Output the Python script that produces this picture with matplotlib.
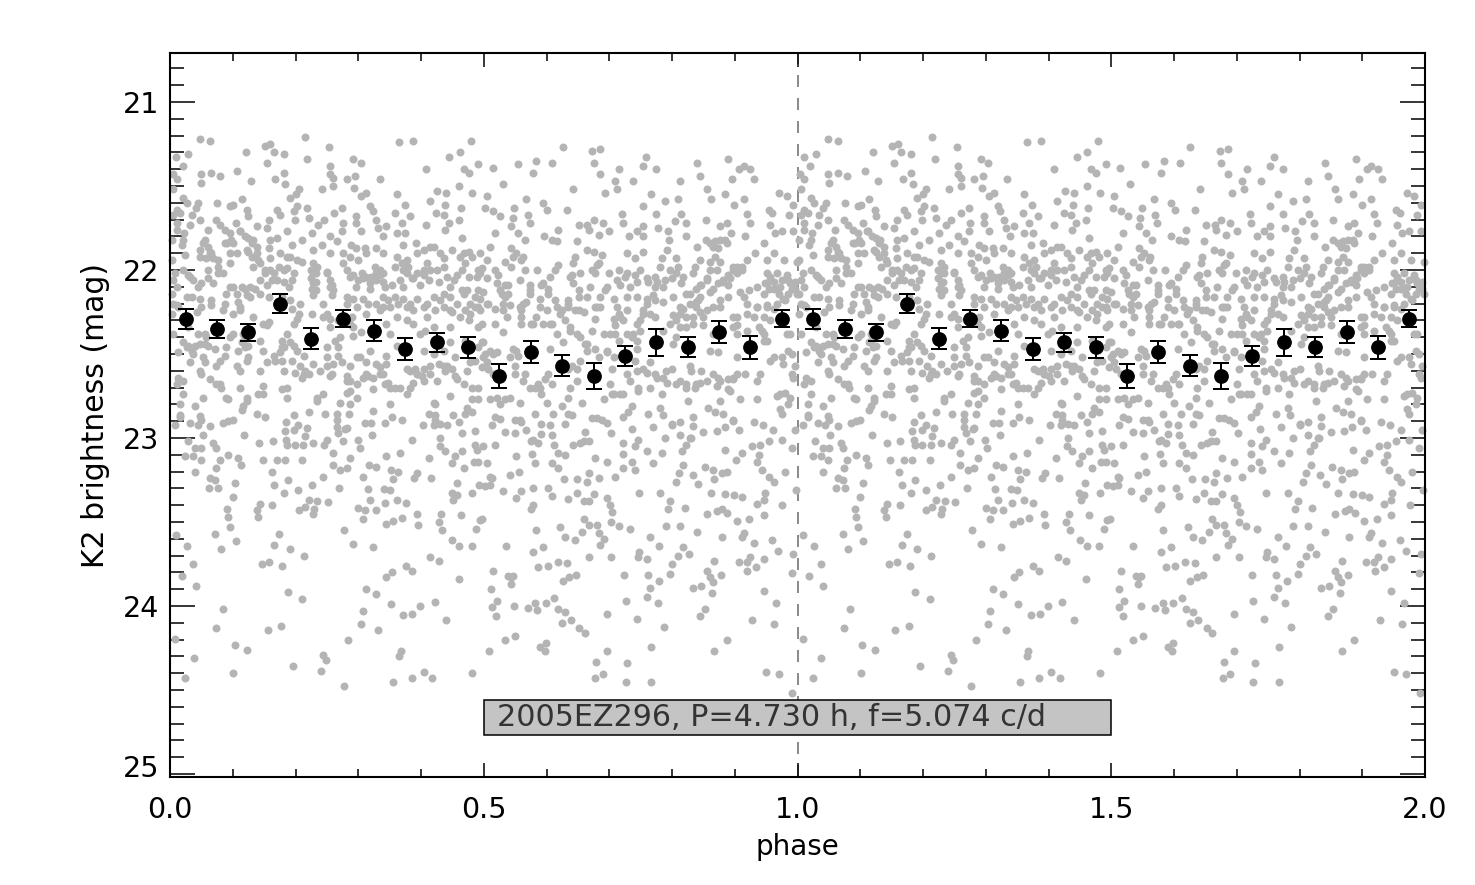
import matplotlib
matplotlib.use("Agg")
import matplotlib.pyplot as plt
from matplotlib.patches import Rectangle
from matplotlib.ticker import MultipleLocator
from matplotlib.transforms import ScaledTranslation
import numpy as np

# binned light curve, one rotation (phase, mag, err)
bin_phase = [0.025, 0.075, 0.125, 0.175, 0.225, 0.275, 0.325, 0.375, 0.425, 0.475,
             0.525, 0.575, 0.625, 0.675, 0.725, 0.775, 0.825, 0.875, 0.925, 0.975]
bin_mag = [22.29, 22.35, 22.37, 22.20, 22.41, 22.29, 22.36, 22.47, 22.43, 22.46,
           22.63, 22.49, 22.57, 22.63, 22.51, 22.43, 22.46, 22.37, 22.46, 22.29]
bin_err = [0.060, 0.052, 0.050, 0.058, 0.063, 0.052, 0.060, 0.068, 0.057, 0.062,
           0.070, 0.066, 0.063, 0.076, 0.060, 0.079, 0.060, 0.064, 0.069, 0.052]

# single exposures, (phase, mag), first half of the rotation
early_points = [
(.048,21.22),(.064,21.23),(.215,21.21),(.254,21.27),(.151,21.26),(.16,21.25),(.165,21.30),(.181,21.31),
(.121,21.30),(.029,21.31),(.01,21.33),(.219,21.34),(.154,21.36),(.02,21.38),(.255,21.38),(.292,21.34),
(.304,21.36),(.365,21.24),(.388,21.23),(.479,21.23),(.462,21.30),(.445,21.33),(.408,21.40),(.491,21.37),
(.468,21.40),(.476,21.42),(.107,21.41),(.065,21.42),(.049,21.43),(.079,21.44),(.004,21.43),(.011,21.46),
(.181,21.42),(.168,21.46),(.129,21.47),(.05,21.48),(.184,21.49),(.255,21.43),(.26,21.45),(.282,21.46),
(.295,21.44),(.334,21.46),(.26,21.50),(.242,21.52),(.294,21.51),(.205,21.52),(.2,21.55),(.191,21.57),
(.313,21.54),(.305,21.56),(.361,21.55),(.426,21.53),(.44,21.54),(.461,21.50),(.482,21.54),(.414,21.59),
(.439,21.61),(.374,21.61),(.021,21.57),(.027,21.60),(.045,21.60),(.114,21.58),(.101,21.61),(.075,21.60),
(.096,21.62),(.123,21.64),(.041,21.63),(.17,21.64),(.202,21.62),(.218,21.63),(.197,21.65),(.274,21.63),
(.261,21.66),(.319,21.62),(.323,21.65),(.463,21.63),(.359,21.66),(.383,21.68),(.424,21.66),(.436,21.67),
(.005,21.67),(.016,21.66),(.035,21.67),(.048,21.70),(.125,21.68),(.175,21.67),(.221,21.69),(.199,21.70),
(.158,21.70),(.245,21.70),(.275,21.72),(.297,21.68),(.329,21.70),(.46,21.70),(.444,21.72),(.369,21.72),
(.408,21.73),(.297,21.72),(.011,21.72),(.032,21.73),(.074,21.70),(.08,21.73),(.105,21.72),(.138,21.74),
(.154,21.75),(.236,21.73),(.226,21.78),(.345,21.74),(.332,21.75),(.438,21.76),(.361,21.78),(.375,21.78),
(.088,21.76),(.096,21.78),(.111,21.77),(.06,21.76),(.023,21.78),(.186,21.77),(.17,21.81),(.21,21.82),
(.255,21.80),(.274,21.77),(.305,21.77),(.339,21.80),(.465,21.81),(.056,21.82),(.119,21.80),(.132,21.82),
(.091,21.84),(.101,21.84),(.019,21.85),(.228,21.88),(.242,21.85),(.266,21.83),(.289,21.85),(.297,21.87),
(.311,21.87),(.328,21.87),(.157,21.87),(.194,21.85),(.392,21.84),(.372,21.85),(.42,21.86),(.404,21.88),
(.449,21.88),(.476,21.89),(.048,21.88),(.064,21.89),(.125,21.89),(.138,21.90),(.096,21.90),
(.003,21.94),(.024,21.91),(.021,22.0),(.048,21.92),(.058,21.93),(.066,21.9),(.077,21.94),(.096,21.96),
(.13,21.92),(.143,21.96),(.159,21.93),(.191,21.92),(.21,21.95),(.228,21.96),(.228,22.02),(.228,22.08),
(.276,21.96),(.287,21.92),(.3,21.94),(.327,21.98),(.335,22.0),(.361,21.92),(.377,21.94),(.409,21.96),
(.436,21.93),(.462,21.92),(.481,21.92),(.005,22.06),(.032,22.04),(.061,22.0),(.077,22.02),(.045,22.1),
(.069,22.08),(.096,22.1),(.151,22.0),(.165,22.02),(.181,22.0),(.194,22.06),(.17,22.06),(.12,22.11),
(.135,22.11),(.154,22.09),(.25,22.02),(.255,22.1),(.287,22.04),(.308,22.05),(.321,22.04),(.335,22.03),
(.297,22.1),(.319,22.11),(.343,22.1),(.372,22.0),(.388,22.05),(.404,22.0),(.425,22.0),(.441,22.04),
(.457,22.03),(.476,22.04),(.491,22.0),(.473,22.12),(.353,22.09),(.003,22.14),(.027,22.16),(.048,22.17),
(.066,22.21),(.088,22.2),(.109,22.19),(.122,22.15),(.143,22.14),(.191,22.18),(.228,22.15),(.244,22.2),
(.258,22.15),(.282,22.16),(.308,22.17),(.329,22.2),(.351,22.22),(.372,22.17),(.393,22.17),(.42,22.16),
(.446,22.16),(.468,22.14),(.491,22.12),(.011,22.21),(.043,22.25),(.085,22.24),(.112,22.24),(.133,22.28),
(.149,22.32),(.202,22.29),(.226,22.26),(.25,22.26),(.298,22.22),(.34,22.22),(.388,22.24),(.409,22.2),
(.436,22.22),(.446,22.24),(.478,22.26),(.491,22.22),(.409,22.28),(.361,22.28),(.005,22.38),(.045,22.38),
(.058,22.4),(.101,22.38),(.117,22.38),(.154,22.33),(.178,22.42),(.197,22.32),(.186,22.38),(.255,22.34),
(.271,22.4),(.292,22.39),(.351,22.38),(.388,22.32),(.42,22.34),(.446,22.34),(.491,22.34),(.027,22.46),
(.037,22.5),(.013,22.49),(.09,22.46),(.12,22.46),(.175,22.49),(.197,22.45),(.25,22.46),(.268,22.46),
(.303,22.52),(.319,22.48),(.345,22.51),(.436,22.48),(.454,22.52),(.032,22.55),(.056,22.55),(.074,22.57),
(.106,22.57),(.125,22.52),(.154,22.55),(.167,22.54),(.207,22.57),(.228,22.56),(.25,22.57),(.287,22.57),
(.329,22.56),(.335,22.62),(.383,22.6),(.404,22.59),(.436,22.57),(.478,22.55),(.013,22.64),(.048,22.6),
(.064,22.65),(.08,22.68),(.112,22.6),(.143,22.6),(.181,22.6),(.199,22.61),(.215,22.6),(.239,22.6),
(.258,22.62),(.282,22.66),(.308,22.64),(.351,22.7),(.367,22.7),(.393,22.62),(.425,22.66),(.457,22.65),
(.481,22.7),(.021,22.74),(.053,22.76),(.09,22.76),(.112,22.7),(.122,22.78),(.149,22.74),(.186,22.7),
(.234,22.76),(.287,22.72),(.324,22.71),(.377,22.74),(.42,22.79),(.446,22.75),(.481,22.77),
(.008,22.92),(.016,22.875),(.032,22.91),(.044,22.92),(.064,22.93),(.085,22.91),(.093,22.90),(.1,22.89),
(.052,22.98),(.028,23.02),(.118,22.98),(.142,23.03),(.164,23.02),(.183,22.96),(.198,22.95),(.204,22.92),
(.218,22.94),(.215,22.99),(.185,23.01),(.187,23.04),(.199,23.04),(.212,23.04),(.228,23.03),(.245,23.04),
(.25,23.01),(.275,23.02),(.299,23.01),(.302,23.06),(.268,22.97),(.282,22.94),(.322,22.98),(.311,22.91),
(.321,22.91),(.343,22.91),(.353,22.875),(.369,22.895),(.385,23.01),(.403,22.92),(.422,22.895),(.441,22.92),
(.465,22.97),(.461,22.905),(.486,22.96),(.486,23.04),(.431,23.0),(.43,23.05),(.438,23.08),(.465,23.08),
(.489,23.07),(.454,23.11),(.449,23.15),(.484,23.14),(.491,23.14),(.469,23.18),(.024,23.11),(.037,23.11),
(.05,23.06),(.04,23.06),(.069,23.03),(.073,23.06),(.049,23.13),(.079,23.13),(.093,23.10),(.109,23.12),
(.113,23.16),(.148,23.13),(.17,23.13),(.183,23.13),(.211,23.13),(.259,23.09),(.259,23.16),(.287,23.12),
(.271,23.19),(.282,23.18),(.317,23.16),(.328,23.17),(.344,23.11),(.366,23.09),(.412,23.12),(.352,23.19),
(.364,23.2),(.04,23.2),(.074,23.18),(.064,23.24),(.072,23.25),(.104,23.27),(.062,23.30),(.076,23.30),
(.1,23.35),(.162,23.2),(.166,23.28),(.188,23.25),(.181,23.325),(.204,23.31),(.227,23.28),(.244,23.23),
(.27,23.295),(.308,23.23),(.315,23.305),(.355,23.245),(.341,23.305),(.35,23.31),(.389,23.24),(.394,23.21),
(.416,23.24),(.458,23.27),(.449,23.325),(.457,23.34),(.451,23.37),(.482,23.33),(.493,23.28),
(.091,23.42),(.093,23.47),(.096,23.53),(.143,23.39),(.138,23.43),(.141,23.47),(.163,23.4),(.205,23.43),
(.215,23.41),(.221,23.37),(.23,23.42),(.228,23.45),(.235,23.375),(.251,23.38),(.3,23.415),(.311,23.43),
(.307,23.48),(.319,23.37),(.328,23.43),(.342,23.385),(.361,23.37),(.376,23.385),(.393,23.45),(.395,23.515),
(.369,23.475),(.355,23.495),(.344,23.51),(.432,23.45),(.428,23.5),(.434,23.55),(.464,23.46),(.488,23.54),
(.494,23.49),(.072,23.57),(.009,23.58),(.027,23.645),(.081,23.66),(.105,23.615),(.174,23.57),(.166,23.635),
(.191,23.66),(.213,23.7),(.278,23.55),(.292,23.63),(.324,23.65),(.45,23.61),(.461,23.64),(.481,23.64),
(.415,23.71),(.428,23.73),(.146,23.75),(.158,23.74),(.179,23.76),(.037,23.75),(.019,23.82),(.041,23.88),
(.353,23.80),(.345,23.83),(.376,23.76),(.385,23.79),(.46,23.84),(.188,23.915),(.211,23.96),(.312,23.9),
(.328,23.93),(.352,23.99),(.399,24.0),(.422,23.975),(.084,24.02),(.307,24.03),(.372,24.055),(.386,24.05),
(.44,24.085),(.304,24.11),(.074,24.13),(.156,24.145),(.177,24.12),(.332,24.14),(.008,24.195),(.103,24.23),
(.123,24.26),(.284,24.205),(.244,24.29),(.248,24.32),(.368,24.265),(.365,24.3),(.038,24.31),(.196,24.355),
(.101,24.4),(.24,24.385),(.024,24.43),(.404,24.39),(.385,24.43),(.418,24.43),(.355,24.455),(.277,24.475),
(.482,24.40),
]

# second half of the rotation
late_points = [
(.626,21.27),(.673,21.29),(.686,21.28),(.675,21.36),(.609,21.36),(.584,21.35),(.554,21.37),(.514,21.39),
(.579,21.42),(.686,21.43),(.716,21.40),(.759,21.33),(.753,21.38),(.774,21.40),(.84,21.36),(.845,21.44),
(.89,21.34),(.907,21.40),(.914,21.38),(.925,21.4),(.931,21.46),(.895,21.46),(.53,21.49),(.709,21.47),
(.738,21.47),(.813,21.47),(.642,21.52),(.693,21.54),(.712,21.52),(.856,21.52),(.505,21.56),(.766,21.55),
(.885,21.55),(.971,21.54),(.983,21.56),(.914,21.58),(.862,21.58),(.568,21.58),(.595,21.6),(.81,21.58),
(.789,21.59),(.899,21.61),(.993,21.61),(.753,21.62),(.502,21.63),(.549,21.63),(.601,21.64),(.633,21.64),
(.515,21.65),(.526,21.68),(.546,21.69),(.57,21.67),(.721,21.665),(.774,21.665),(.815,21.665),(.919,21.665),
(.954,21.64),(.96,21.66),(.987,21.67),(.573,21.72),(.544,21.74),(.555,21.78),(.565,21.82),(.518,21.78),
(.651,21.73),(.675,21.7),(.665,21.73),(.69,21.72),(.722,21.72),(.753,21.74),(.744,21.77),(.777,21.75),
(.804,21.71),(.823,21.72),(.854,21.7),(.877,21.74),(.887,21.72),(.924,21.72),(.956,21.73),(.975,21.77),
(.619,21.76),(.596,21.8),(.608,21.82),(.617,21.83),(.70,21.77),(.667,21.76),(.683,21.79),(.732,21.8),
(.753,21.8),(.793,21.77),(.796,21.82),(.823,21.8),(.854,21.82),(.894,21.78),(.916,21.8),(.964,21.78),
(.993,21.77),(.648,21.83),(.51,21.86),(.544,21.87),(.552,21.9),(.562,21.92),(.664,21.88),(.675,21.89),
(.792,21.88),(.753,21.89),(.84,21.86),(.869,21.83),(.885,21.82),(.866,21.86),(.947,21.84),
(.494,21.9),(.534,21.95),(.645,21.92),(.643,21.96),(.689,21.91),(.728,21.9),(.741,21.93),(.784,21.93),
(.807,21.93),(.845,21.94),(.861,21.95),(.877,21.95),(.919,21.94),(.932,21.9),(.951,21.94),(.962,21.9),
(.978,21.94),(.999,21.95),(.544,21.98),(.566,22.0),(.585,22.0),(.619,21.97),(.614,22.0),(.606,22.04),
(.640,22.03),(.672,22.0),(.68,21.97),(.677,22.02),(.699,22.02),(.715,22.0),(.749,22.0),(.741,22.03),
(.725,22.04),(.781,21.98),(.797,22.0),(.81,21.98),(.837,21.98),(.861,22.0),(.871,22.0),(.898,21.98),
(.911,22.0),(.951,22.02),(.967,22.02),(.983,22.03),(.497,21.99),(.505,22.05),(.523,22.03),(.558,22.06),
(.521,22.08),(.539,22.09),(.526,22.12),(.574,22.09),(.595,22.08),(.603,22.11),(.643,22.08),(.651,22.12),
(.669,22.1),(.696,22.1),(.717,22.09),(.744,22.07),(.773,22.04),(.762,22.07),(.786,22.1),(.8,22.05),
(.815,22.08),(.776,22.07),(.845,22.09),(.855,22.06),(.882,22.07),(.892,22.05),(.903,22.02),(.89,22.09),
(.951,22.08),(.962,22.11),(.988,22.08),(.996,22.11),(.499,22.13),(.534,22.16),(.574,22.14),(.568,22.19),
(.59,22.17),(.614,22.18),(.635,22.18),(.651,22.16),(.664,22.16),(.693,22.12),(.685,22.16),(.707,22.17),
(.728,22.16),(.744,22.16),(.76,22.17),(.77,22.15),(.786,22.19),(.802,22.16),(.829,22.14),(.839,22.19),
(.861,22.13),(.908,22.13),(.922,22.12),(.919,22.2),(.935,22.22),(.977,22.17),(.999,22.14),(.951,22.22),
(.967,22.2),(.505,22.2),(.531,22.24),(.542,22.21),(.537,22.28),(.558,22.22),(.56,22.28),(.56,22.32),
(.584,22.28),(.6,22.24),(.624,22.24),(.635,22.22),(.645,22.24),(.659,22.25),(.677,22.29),(.677,22.22),
(.712,22.22),(.717,22.28),(.709,22.33),(.728,22.24),(.754,22.24),(.749,22.3),(.765,22.26),(.802,22.27),
(.818,22.23),(.839,22.22),(.85,22.28),(.877,22.22),(.834,22.32),(.813,22.34),(.85,22.33),(.903,22.28),
(.898,22.34),(.93,22.28),(.919,22.36),(.946,22.28),(.983,22.38),(.518,22.32),(.497,22.32),(.531,22.37),
(.576,22.32),(.606,22.32),(.637,22.34),(.648,22.38),(.672,22.36),(.701,22.38),(.709,22.38),(.736,22.4),
(.749,22.36),(.797,22.32),(.786,22.36),(.807,22.4),(.866,22.38),(.946,22.38),(.616,22.38),(.499,22.43),
(.547,22.47),(.606,22.47),(.627,22.43),(.664,22.44),(.677,22.47),(.696,22.48),(.744,22.47),(.802,22.44),
(.874,22.49),(.861,22.48),(.903,22.52),(.956,22.54),(.975,22.52),(.991,22.5),(.499,22.52),(.515,22.5),
(.555,22.51),(.977,22.56),(.996,22.57),(.505,22.55),(.55,22.62),(.563,22.66),(.598,22.65),(.608,22.68),
(.582,22.7),(.592,22.74),(.648,22.59),(.648,22.66),(.637,22.7),(.635,22.76),(.704,22.59),(.701,22.68),
(.707,22.74),(.722,22.74),(.691,22.77),(.733,22.66),(.744,22.6),(.76,22.61),(.765,22.55),(.776,22.64),
(.8,22.59),(.792,22.67),(.807,22.68),(.823,22.68),(.829,22.57),(.847,22.6),(.839,22.68),(.855,22.66),
(.874,22.64),(.871,22.69),(.893,22.72),(.898,22.65),(.916,22.62),(.935,22.66),(.908,22.77),(.935,22.77),
(.972,22.74),(.988,22.76),(.993,22.64),(.765,22.7),(.746,22.7),(.784,22.74),(.826,22.78),(.877,22.78),
(.521,22.76),(.534,22.77),(.558,22.79),(.51,22.77),
(.513,22.925),(.526,22.885),(.534,22.965),(.55,22.97),(.558,22.895),(.568,22.955),(.591,22.915),(.606,22.925),
(.608,22.985),(.591,22.975),(.63,22.915),(.64,22.865),(.661,22.965),(.68,22.88),(.696,22.91),(.702,22.97),
(.722,22.875),(.737,22.945),(.77,22.935),(.789,23.0),(.8,22.925),(.813,22.905),(.834,22.93),(.85,22.965),
(.813,22.985),(.831,23.0),(.871,22.96),(.884,22.935),(.906,22.955),(.93,22.905),(.945,22.92),(.961,22.955),
(.898,22.9),(.996,22.955),(.722,23.03),(.746,23.01),(.741,23.05),(.499,23.05),(.518,23.04),(.579,23.01),
(.612,23.04),(.653,23.03),(.643,23.04),(.667,23.02),(.582,23.15),(.552,23.11),(.577,23.095),(.505,23.15),
(.513,23.24),(.608,23.15),(.619,23.09),(.63,23.1),(.619,23.18),(.677,23.12),(.696,23.145),(.722,23.18),
(.741,23.19),(.736,23.14),(.77,23.15),(.722,23.095),(.76,23.08),(.784,23.09),(.818,23.16),(.816,23.08),
(.823,23.04),(.829,23.0),(.885,23.07),(.902,23.13),(.911,23.09),(.935,23.14),(.939,23.1),(.927,23.05),
(.94,23.04),(.954,23.02),(.975,23.01),(.991,23.06),(.628,23.245),(.649,23.245),(.664,23.26),(.684,23.24),
(.667,23.21),(.709,23.23),(.806,23.26),(.811,23.21),(.833,23.22),(.842,23.275),(.852,23.175),(.866,23.19),
(.879,23.21),(.887,23.2),(.867,23.245),(.943,23.19),(.962,23.26),(.955,23.23),(.98,23.2),(.531,23.315),
(.551,23.355),(.559,23.315),(.579,23.295),(.51,23.28),(.502,23.285),(.51,23.23),(.542,23.22),(.556,23.205),
(.575,23.425),(.579,23.4),(.498,23.48),(.608,23.345),(.603,23.295),(.635,23.365),(.648,23.325),(.659,23.375),
(.667,23.375),(.676,23.335),(.696,23.36),(.701,23.4),(.705,23.44),(.747,23.33),(.781,23.33),(.797,23.375),
(.793,23.425),(.82,23.415),(.856,23.45),(.872,23.435),(.879,23.42),(.888,23.445),(.903,23.495),(.923,23.48),
(.946,23.46),(.976,23.4),(.862,23.33),(.885,23.335),(.899,23.34),(.911,23.35),(.948,23.33),(.935,23.39),
(.946,23.37),(.997,23.31),(.583,23.55),(.622,23.53),(.63,23.59),(.645,23.61),(.656,23.56),(.66,23.48),
(.667,23.52),(.68,23.52),(.683,23.565),(.692,23.6),(.686,23.635),(.703,23.5),(.715,23.525),(.733,23.54),
(.79,23.525),(.813,23.525),(.84,23.56),(.879,23.59),(.914,23.565),(.911,23.59),(.535,23.64),(.579,23.68),
(.595,23.65),(.587,23.77),(.602,23.76),(.618,23.74),(.633,23.745),(.626,23.85),(.636,23.825),(.647,23.815),
(.667,23.71),(.703,23.71),(.724,23.815),(.762,23.815),(.78,23.85),(.797,23.81),(.8,23.75),(.81,23.70),
(.817,23.65),(.827,23.69),(.748,23.68),(.746,23.71),(.76,23.72),(.779,23.64),(.765,23.59),(.856,23.79),
(.861,23.83),(.867,23.73),(.878,23.815),(.866,23.855),(.906,23.74),(.919,23.74),(.925,23.71),(.92,23.79),
(.934,23.77),(.946,23.72),(.931,23.625),(.96,23.61),(.969,23.67),(.993,23.69),(.991,23.805),(.515,23.79),
(.512,23.9),(.544,23.83),(.539,23.82),(.547,23.82),(.543,23.87),(.521,23.97),(.513,24.005),(.519,24.06),
(.548,24.0),(.57,24.01),(.582,23.985),(.585,24.025),(.599,23.98),(.612,23.95),(.619,24.015),(.63,24.035),
(.625,24.1),(.639,24.085),(.652,24.13),(.661,24.16),(.696,24.05),(.726,23.97),(.744,24.08),(.76,23.945),
(.777,23.985),(.765,23.895),(.787,24.125),(.834,23.89),(.847,23.88),(.864,23.92),(.853,24.02),(.845,24.06),
(.946,23.91),(.966,23.985),(.928,24.085),(.963,24.11),(.887,24.205),(.867,24.27),(.767,24.245),(.696,24.27),
(.599,24.22),(.59,24.245),(.597,24.27),(.55,24.18),(.534,24.205),(.509,24.27),(.679,24.335),(.729,24.34),
(.69,24.405),(.678,24.43),(.726,24.45),(.767,24.45),(.95,24.39),(.97,24.405),(.992,24.515),
]

# second pass through the crowded clumps around mag 22-23
dense_points = [
(.224,22.0),(.233,22.02),(.224,22.05),(.232,22.07),(.226,22.11),(.233,22.12),(.234,21.98),(.25,22.01),
(.255,22.06),(.26,22.12),(.258,22.09),(.292,22.03),(.3,22.06),(.313,22.04),(.329,22.06),(.34,22.02),
(.319,22.08),(.306,22.02),(.34,22.07),(.282,22.0),(.329,22.02),(.369,21.96),(.38,21.98),(.377,22.02),
(.385,22.05),(.393,22.02),(.404,22.03),(.414,22.0),(.412,22.06),(.367,22.06),(.359,21.98),(.372,22.1),
(.399,22.09),(.436,21.98),(.428,22.07),(.465,22.0),(.47,21.96),(.452,22.06),(.465,22.12),(.446,22.1),
(.489,22.04),(.486,22.16),(.008,22.02),(.029,22.03),(.037,22.06),(.011,22.1),(.035,22.16),(.05,22.08),
(.061,22.05),(.077,21.98),(.085,22.02),(.101,22.1),(.114,22.1),(.128,22.1),(.106,22.14),(.09,22.14),
(.143,22.06),(.151,22.02),(.159,22.0),(.173,21.98),(.186,21.99),(.197,22.02),(.202,21.94),(.162,22.06),
(.181,22.07),(.189,22.1),(.13,21.84),(.138,21.86),(.125,21.81),(.112,21.77),(.141,21.94),(.133,21.98),
(.122,21.88),(.061,21.86),(.053,21.84),(.069,21.93),(.128,22.16),(.157,22.16),(.178,22.16),(.207,22.2),
(.194,22.23),(.282,22.2),(.292,22.17),(.316,22.2),(.348,22.18),(.359,22.16),(.383,22.2),(.436,22.14),
(.457,22.2),(.47,22.24),(.449,22.25),(.476,22.3),(.462,22.28),(.478,22.2),(.486,22.22),(.43,22.18),
(.422,22.24),(.404,22.22),(.377,22.22),(.335,22.24),(.313,22.26),(.29,22.28),(.287,22.32),(.244,22.28),
(.205,22.26),(.157,22.31),(.112,22.22),(.101,22.26),(.05,22.22),(.066,22.18),(.013,22.22),(.003,22.26),
(.005,22.2),(.029,22.34),(.056,22.38),(.04,22.45),(.029,22.45),(.048,22.44),(.061,22.45),(.072,22.47),
(.096,22.4),(.117,22.42),(.109,22.48),(.143,22.42),(.178,22.46),(.191,22.43),(.202,22.48),(.263,22.42),
(.268,22.51),(.298,22.52),(.313,22.55),(.345,22.56),(.335,22.58),(.361,22.45),(.399,22.38),(.404,22.48),
(.42,22.5),(.438,22.6),(.449,22.59),(.446,22.43),(.473,22.6),(.414,22.57),(.393,22.62),(.404,22.66),
(.388,22.67),(.383,22.7),(.348,22.67),(.324,22.64),(.313,22.62),(.287,22.66),(.282,22.73),(.287,22.8),
(.298,22.76),(.244,22.74),(.234,22.78),(.213,22.62),(.186,22.76),(.178,22.71),(.149,22.69),(.141,22.74),
(.122,22.76),(.117,22.81),(.093,22.77),(.082,22.7),(.074,22.68),(.05,22.62),(.021,22.66),(.011,22.68),
(.016,22.8),(.04,22.81),(.271,22.79),(.351,22.8),(.422,22.8),(.473,22.82),(.491,22.77),(.016,22.865),
(.048,22.87),(.114,22.835),(.138,22.855),(.151,22.875),(.197,22.865),(.221,22.845),(.247,22.855),(.266,22.855),
(.285,22.855),(.324,22.84),(.412,22.855),(.422,22.865),(.451,22.865),(.47,22.855),(.481,22.845),(.266,22.895),
(.266,22.935),(.279,22.945),(.42,22.925),(.431,22.915),(.185,22.905),(.05,22.895),(.518,22.875),(.55,22.895),
(.56,22.905),(.582,22.855),(.611,22.855),(.635,22.855),(.672,22.88),(.688,22.895),(.73,22.845),(.762,22.86),
(.785,22.865),(.8,22.915),(.834,22.875),(.869,22.845),(.882,22.855),(.898,22.895),(.975,22.855),(.576,23.02),
(.587,23.03),(.659,23.02),(.985,22.06),(.996,22.07),(.991,22.11),(.956,22.04),(.948,22.08),(.962,22.07),
(.972,22.1),(.975,22.06),(.954,22.11),(.97,22.14),(.985,22.14),(.98,22.18),(.882,22.06),(.89,22.03),
(.898,22.0),(.903,21.98),(.911,21.98),(.874,22.08),(.866,22.11),(.855,22.05),(.847,22.09),(.839,22.11),
(.861,21.84),(.877,21.82),(.887,21.84),(.874,21.87),(.869,21.92),(.813,22.26),(.823,22.28),(.834,22.28),
(.845,22.25),(.855,22.24),(.866,22.22),(.813,22.22),(.829,22.2),(.842,22.18),(.807,22.3),(.823,22.34),
(.903,22.33),(.919,22.26),(.935,22.22),(.951,22.21),(.962,22.23),(.956,22.3),(.938,22.34),(.946,22.42),
(.903,22.38),(.898,22.28),(.56,22.24),(.563,22.2),(.574,22.12),(.592,22.09),(.603,22.14),(.59,22.22),
(.595,22.32),(.608,22.32),(.579,22.32),(.621,22.26),(.616,22.22),(.63,22.3),(.637,22.36),(.653,22.4),
(.661,22.44),(.635,22.2),(.651,22.24),(.68,22.22),(.685,22.22),(.707,22.29),(.715,22.26),(.722,22.3),
(.738,22.38),(.754,22.26),(.744,22.32),(.76,22.2),(.773,22.18),(.773,22.28),(.773,22.1),(.76,22.05),
(.494,22.17),(.507,22.2),(.518,22.23),(.531,22.2),(.529,22.14),(.534,22.09),(.539,22.14),(.494,22.02),
(.494,22.24),(.497,22.43),(.51,22.48),(.521,22.49),(.552,22.48),(.497,22.58),(.526,22.8),(.542,22.76),
(.59,22.7),(.6,22.79),(.624,22.81),(.656,22.79),(.704,22.74),(.717,22.74),(.746,22.72),(.736,22.81),
(.781,22.82),(.823,22.7),(.837,22.7),(.858,22.82),(.89,22.71),(.877,22.66),(.898,22.64),(.967,22.75),
(.98,22.73),(.991,22.62),(.985,22.8),(.972,22.825),
(.021,22.43),(.035,22.48),(.056,22.44),(.053,22.52),(.08,22.54),(.088,22.51),(.114,22.43),(.125,22.45),
(.122,22.54),(.149,22.48),(.165,22.51),(.181,22.46),(.178,22.54),(.194,22.54),(.213,22.51),(.21,22.64),
(.221,22.62),(.25,22.52),(.26,22.56),(.274,22.55),(.255,22.63),(.282,22.63),(.298,22.68),(.316,22.63),
(.34,22.62),(.343,22.68),(.359,22.7),(.377,22.59),(.391,22.59),(.401,22.63),(.414,22.62),(.428,22.56),
(.441,22.57),(.454,22.63),(.468,22.68),(.491,22.7),(.486,22.54),(.491,22.46),(.47,22.42),(.406,22.36),
(.377,22.3),(.364,22.2),(.34,22.16),(.268,22.3),(.255,22.29),(.292,22.34),(.305,22.37),(.345,22.32),
(.502,22.5),(.507,22.59),(.515,22.62),(.542,22.52),(.55,22.57),(.566,22.62),(.574,22.7),(.587,22.68),
(.603,22.62),(.635,22.59),(.64,22.57),(.653,22.54),(.664,22.48),(.683,22.52),(.696,22.49),(.707,22.52),
(.728,22.62),(.741,22.54),(.754,22.59),(.773,22.62),(.786,22.64),(.791,22.6),(.813,22.66),(.831,22.6),
(.845,22.67),(.866,22.62),(.89,22.65),(.903,22.62),(.94,22.62),(.962,22.52),(.985,22.48),(.943,22.36),
(.951,22.42),(.988,22.38),(.744,22.42),(.728,22.38),(.715,22.42),(.691,22.38),(.56,21.94),(.547,21.92),
(.637,22.04),(.653,22.02),(.683,21.96),(.712,22.06),(.733,22.1),(.728,22.02),(.789,22.06),(.807,22.02),
(.818,22.04),(.834,22.02),(.823,22.14),(.845,22.16),(.877,22.18),(.89,22.16),(.914,22.16),(.935,22.1),
(.946,22.14),(.505,21.94),(.518,22.0),(.088,21.84),(.106,21.9),(.159,21.82),(.175,21.9),(.186,21.92),
(.255,21.9),(.276,21.9),(.313,21.9),(.34,21.9),(.393,21.9),(.414,21.86),(.43,21.9),(.468,21.9),
(.003,21.82),(.021,21.82),(.011,21.76),(.098,21.82),(.005,21.52),(.011,21.64),
]

xlabel = "phase"
ylabel = "K2 brightness (mag)"
info_label = "2005EZ296, P=4.730 h, f=5.074 c/d"


def plot_lightcurve():
    fig = plt.figure(figsize=(14.75, 8.85), dpi=100)
    ax = fig.add_axes([170 / 1475, 108 / 885, 1255 / 1475, 724 / 885])

    # fold the same rotation twice over phase 0-2
    points = np.array(early_points + late_points + dense_points)
    for shift in [0, 1]:
        ax.scatter(points[:, 0] + shift, points[:, 1], s=33, color="#b4b4b4",
                   linewidths=0, zorder=2, clip_on=False)

    ax.axvline(1.0, color="#8c8c8c", lw=1.44, dashes=(6, 5.5), zorder=1)

    for shift in [0, 1]:
        ax.errorbar(np.array(bin_phase) + shift, bin_mag, yerr=bin_err, fmt="o",
                    color="black", ms=9.6, elinewidth=1.44, capsize=5.8,
                    capthick=1.44, zorder=4)

    box = Rectangle((0.5, 24.56), 1.0, 0.21, facecolor="#c4c4c4", edgecolor="black",
                    lw=1.1, zorder=5)
    ax.add_patch(box)
    ax.text(0.521, 24.665, info_label, fontsize=21.7, color="#333333", va="center",
            ha="left", zorder=6)

    ax.set_xlim(0.0, 2.0)
    ax.set_ylim(25.018, 20.708)
    ax.xaxis.set_major_locator(MultipleLocator(0.5))
    ax.xaxis.set_minor_locator(MultipleLocator(0.1))
    ax.yaxis.set_major_locator(MultipleLocator(1))
    ax.yaxis.set_minor_locator(MultipleLocator(0.1))
    ax.tick_params(axis="both", which="both", direction="in", top=True, right=True,
                   width=1.1, labelsize=20.5)
    ax.tick_params(axis="x", which="major", length=10, pad=14)
    ax.tick_params(axis="x", which="minor", length=5.8)
    ax.tick_params(axis="y", which="major", length=18, pad=8)
    ax.tick_params(axis="y", which="minor", length=10)
    ax.set_xticks([0.0, 0.5, 1.0, 1.5, 2.0], ["0.0", "0.5", "1.0", "1.5", "2.0"])
    ax.set_yticks([21, 22, 23, 24, 25], ["21", "22", "23", "24", "25"])
    ax.set_xlabel(xlabel, fontsize=20, labelpad=6)
    ax.set_ylabel(ylabel, fontsize=21.5, labelpad=9)
    for spine in ax.spines.values():
        spine.set_linewidth(1.5)
        spine.set_zorder(7)

    # the bottom label sits a little above its tick
    label_25 = ax.yaxis.get_major_ticks()[-1].label1
    label_25.set_transform(label_25.get_transform()
                           + ScaledTranslation(0, 8 / 100, fig.dpi_scale_trans))

    fig.savefig("out.png", dpi=100)


if __name__ == "__main__":
    plot_lightcurve()
